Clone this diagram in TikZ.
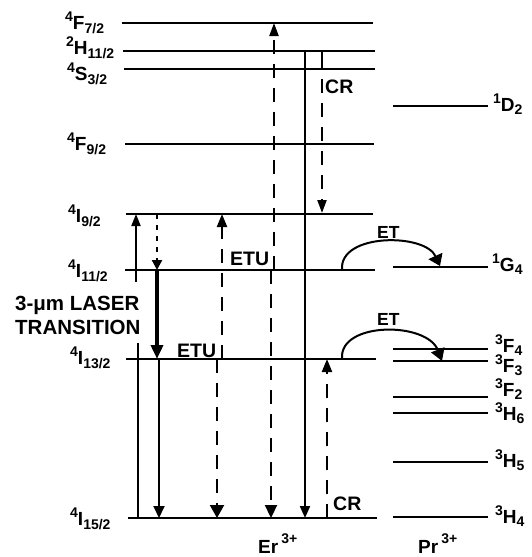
\documentclass[tikz,border=0pt]{standalone}
\usepackage{fontspec}
\setmainfont{Liberation Sans}
\usetikzlibrary{arrows.meta}
\newcommand\scr[2]{\raisebox{#1}{\fontsize{14}{14}\selectfont #2}}
\newcommand\lvE[3]{\scr{7.5pt}{#1}#2\scr{-4.5pt}{#3}}
\newcommand\lvP[3]{\scr{7.5pt}{#1}#2\scr{-3pt}{#3}}
\begin{document}
\begin{tikzpicture}[x=1pt,y=-1pt,
  lvl/.style={line width=2.2pt},
  lbl/.style={font=\fontsize{19}{19}\selectfont\bfseries, inner sep=0pt, anchor=base west},
  tag/.style={font=\fontsize{19.5}{19.5}\selectfont\bfseries, inner sep=0pt, anchor=base west},
  ettag/.style={font=\fontsize{17.5}{17.5}\selectfont\bfseries, inner sep=0pt, anchor=base west},
  big/.style={font=\fontsize{20.5}{20.5}\selectfont\bfseries, inner sep=0pt, anchor=base west},
  vline/.style={line width=2pt},
  dsh/.style={line width=2.2pt, dash pattern=on 14pt off 10pt},
  dot/.style={line width=2.2pt, dash pattern=on 5pt off 6pt}
]
\useasboundingbox (0,0) rectangle (532,557);
% Er levels
\foreach \n/\y/\xa/\xb in {F72/23/122/373, H112/51/123/375, S32/69/124/375, F92/144/125/374, I92/214/126/373, I112/270/125/375, I132/359/126/376, I152/518/128/377}{
  \coordinate (\n-l) at (\xa,\y);
  \coordinate (\n-r) at (\xb,\y);
  \draw[lvl] (\n-l) -- (\n-r);
}
% Pr levels
\foreach \n/\y in {D2/106, G4/267, F4/349, F3/361, F2/397, H6/413, H5/462, H4/517}{
  \coordinate (\n-l) at (393,\y);
  \coordinate (\n-r) at (488,\y);
  \draw[lvl] (\n-l) -- (\n-r);
}
% Er labels
\node[lbl] (lF72) at (65,29) {\lvE{4}{F}{7/2}};
\node[lbl] (lH112) at (66,54) {\lvE{2}{H}{11/2}};
\node[lbl] (lS32) at (67,80) {\lvE{4}{S}{3/2}};
\node[lbl] (lF92) at (67,150) {\lvE{4}{F}{9/2}};
\node[lbl] (lI92) at (68,222) {\lvE{4}{I}{9/2}};
\node[lbl] (lI112) at (68,277) {\lvE{4}{I}{11/2}};
\node[lbl] (lI132) at (70,364) {\lvE{4}{I}{13/2}};
\node[lbl] (lI152) at (70,525) {\lvE{4}{I}{15/2}};
% Pr labels
\node[lbl] (lD2) at (493,111) {\lvP{1}{D}{2}};
\node[lbl] (lG4) at (492,271) {\lvP{1}{G}{4}};
\node[lbl] (lF4) at (495,352) {\lvP{3}{F}{4}};
\node[lbl] (lF3) at (495,372) {\lvP{3}{F}{3}};
\node[lbl] (lF2) at (495,396) {\lvP{3}{F}{2}};
\node[lbl] (lH6) at (495,420) {\lvP{3}{H}{6}};
\node[lbl] (lH5) at (495,467) {\lvP{3}{H}{5}};
\node[lbl] (lH4) at (495,523) {\lvP{3}{H}{4}};
% other texts
\node[big] (las1) at (15,310) {3-μm LASER};
\node[big] (las2) at (15,334) {TRANSITION};
\node[tag] (etu1) at (230,265) {ETU};
\node[tag] (etu2) at (177,357) {ETU};
\node[tag] (cr1) at (325,93) {CR};
\node[tag] (cr2) at (333,510) {CR};
\node[ettag] (et1) at (377,238) {ET};
\node[ettag] (et2) at (377,325) {ET};
\node[lbl] (er) at (258,553) {Er\,\scr{10pt}{3+}};
\node[lbl] (pr) at (418,553) {Pr\,\scr{10pt}{3+}};
% arrow end points
\coordinate (a1s) at (136,282); \coordinate (a1e) at (136,214);
\coordinate (a2s) at (157,214); \coordinate (a2e) at (157,270);
\coordinate (a3e) at (157,359);
\coordinate (a4s) at (159,359); \coordinate (a4e) at (159,518);
\coordinate (a5s) at (138,343); \coordinate (a5e) at (138,518);
\coordinate (a6s) at (222,359); \coordinate (a6e) at (222,214);
\coordinate (a7s) at (217,359); \coordinate (a7e) at (217,518);
\coordinate (a8s) at (274,270); \coordinate (a8e) at (274,23);
\coordinate (a9s) at (271,270); \coordinate (a9e) at (271,518);
\coordinate (a10s) at (305,51); \coordinate (a10e) at (305,518);
\coordinate (a11s) at (322,51); \coordinate (a11e) at (322,69);
\coordinate (a12s) at (322,79); \coordinate (a12e) at (322,213);
\coordinate (a13s) at (327,518); \coordinate (a13e) at (327,359);
\coordinate (e1s) at (342,269); \coordinate (e1e) at (440,266);
\coordinate (e2s) at (342,358); \coordinate (e2e) at (442,361);
% arrows
\draw[vline,-{Triangle[width=9pt,length=12pt]}] (a1s) -- (a1e);
\draw[dot,-{Triangle[width=10pt,length=10pt]}] (a2s) -- (a2e);
\draw[line width=3.5pt,-{Triangle[width=12pt,length=14pt]}] (a2e) -- (a3e);
\draw[vline,-{Triangle[width=11pt,length=12pt]}] (a4s) -- (a4e);
\draw[line width=1.6pt] (a5s) -- (a5e);
\draw[dsh,-{Triangle[width=10pt,length=13pt]}] (a6s) -- (a6e);
\draw[dsh,-{Triangle[width=14pt,length=13pt]}] (a7s) -- (a7e);
\draw[dsh,-{Triangle[width=9pt,length=13pt]}] (a8s) -- (a8e);
\draw[dsh,-{Triangle[width=12pt,length=13pt]}] (a9s) -- (a9e);
\draw[vline,-{Triangle[width=10pt,length=12pt]}] (a10s) -- (a10e);
\draw[vline] (a11s) -- (a11e);
\draw[dsh,-{Triangle[width=9pt,length=13pt]}] (a12s) -- (a12e);
\draw[dsh,-{Triangle[width=10pt,length=13pt]}] (a13s) -- (a13e);
\draw[vline,-{Triangle[width=15pt,length=11pt]}] (e1s) .. controls (340,233) and (425,233) .. (e1e);
\draw[vline,-{Triangle[width=14pt,length=12pt]}] (e2s) .. controls (340,321.5) and (427,321.5) .. (e2e);
\end{tikzpicture}
\end{document}
